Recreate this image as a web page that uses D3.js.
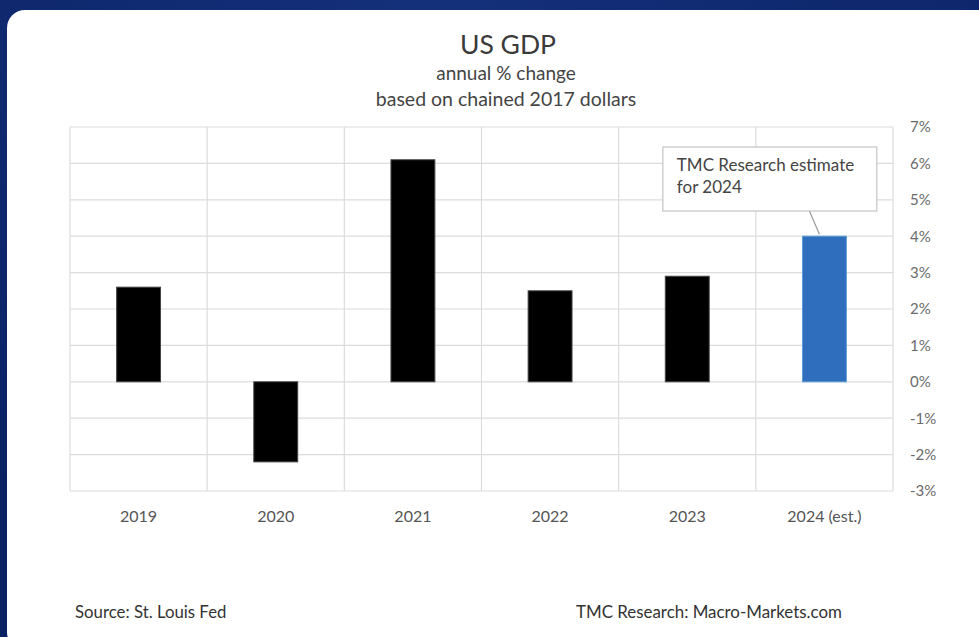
<!DOCTYPE html>
<html>
<head>
<meta charset="utf-8">
<script src="https://cdn.jsdelivr.net/npm/d3@7"></script>
<style>
  html, body { margin: 0; padding: 0; background: #0b2468; }
  svg { display: block; }
  text { font-family: Lato, "Open Sans", sans-serif; }
</style>
</head>
<body>
<svg id="chart" width="979" height="637"></svg>
<script>
// US real GDP, annual % change (chained 2017 dollars)
const years = ["2019", "2020", "2021", "2022", "2023", "2024 (est.)"];
const growth = [2.6, -2.2, 6.1, 2.5, 2.9, 4.0];
const estimateFlags = [false, false, false, false, false, true];
const yTicks = [-3, -2, -1, 0, 1, 2, 3, 4, 5, 6, 7];
const titleLines = ["US GDP", "annual % change", "based on chained 2017 dollars"];
const noteLines = ["TMC Research estimate", "for 2024"];
const sourceText = "Source: St. Louis Fed";
const creditText = "TMC Research: Macro-Markets.com";

const svg = d3.select("#chart");
const W = 979, H = 637;

// Backdrop
const defs = svg.append("defs");
const bg = defs.append("radialGradient").attr("id", "bg")
  .attr("cx", "0.45").attr("cy", "0.0").attr("r", "0.9");
bg.append("stop").attr("offset", "0").attr("stop-color", "#14307a");
bg.append("stop").attr("offset", "1").attr("stop-color", "#0a2163");
svg.append("rect").attr("width", W).attr("height", H).attr("fill", "url(#bg)");

// White card
svg.append("rect")
  .attr("x", 7).attr("y", 10).attr("width", W + 30).attr("height", 640)
  .attr("rx", 18).attr("fill", "#ffffff");

// Plot area
const plot = { left: 70, right: 893, top: 127, bottom: 491 };
const x = d3.scaleBand().domain(years).range([plot.left, plot.right]).padding(0);
const y = d3.scaleLinear().domain([-3, 7]).range([plot.bottom, plot.top]);
const barW = x.bandwidth() * 0.32;

// Titles
const titleG = svg.append("g").attr("text-anchor", "middle").attr("fill", "#3a3a3a");
titleG.append("text").attr("x", 508).attr("y", 54).attr("font-size", 26.5).text(titleLines[0]);
titleG.append("text").attr("x", 506).attr("y", 80).attr("font-size", 19).attr("fill", "#444").text(titleLines[1]);
titleG.append("text").attr("x", 506).attr("y", 106).attr("font-size", 19.5).attr("fill", "#444").text(titleLines[2]);

// Horizontal gridlines
svg.append("g").selectAll("line").data(yTicks).join("line")
  .attr("x1", plot.left).attr("x2", plot.right)
  .attr("y1", d => y(d)).attr("y2", d => y(d))
  .attr("stroke", "#dcdcdc").attr("stroke-width", 1.2);

// Vertical gridlines at category boundaries
const bounds = years.map(d => x(d)).concat([plot.right]);
svg.append("g").selectAll("line").data(bounds).join("line")
  .attr("x1", d => d).attr("x2", d => d)
  .attr("y1", plot.top).attr("y2", plot.bottom)
  .attr("stroke", "#dcdcdc").attr("stroke-width", 1.2);

// Right-hand value axis
const yAxis = d3.axisRight(y).tickValues(yTicks).tickSize(0).tickPadding(0)
  .tickFormat(d => d + "%");
const yAxisG = svg.append("g").attr("transform", `translate(${plot.right + 17},0)`).call(yAxis);
yAxisG.select(".domain").remove();
yAxisG.selectAll("text").attr("font-size", 15).attr("fill", "#6b6b6b")
  .attr("font-family", "Lato, sans-serif");

// Category axis labels
const xAxis = d3.axisBottom(x).tickSize(0).tickPadding(0);
const xAxisG = svg.append("g").attr("transform", `translate(0,${plot.bottom + 20})`).call(xAxis);
xAxisG.select(".domain").remove();
xAxisG.selectAll("text").attr("font-size", 16).attr("fill", "#555")
  .attr("font-family", "Lato, sans-serif");

// Bars
const rows = years.map((yr, i) => ({ yr, v: growth[i], est: estimateFlags[i] }));
svg.append("g").selectAll("rect").data(rows).join("rect")
  .attr("x", d => x(d.yr) + (x.bandwidth() - barW) / 2)
  .attr("width", barW)
  .attr("y", d => y(Math.max(0, d.v)))
  .attr("height", d => Math.abs(y(d.v) - y(0)))
  .attr("fill", d => d.est ? "#2f6ebd" : "#000000")
  .attr("stroke", d => d.est ? "#5b9bd5" : "#444")
  .attr("stroke-width", 1);

// Callout for the estimate bar
const est = rows.find(d => d.est);
const estCx = x(est.yr) + x.bandwidth() / 2;
const box = { x: x(est.yr) - 93, y: 147, w: 214, h: 64 };
svg.append("line")
  .attr("x1", estCx - 15).attr("y1", box.y + box.h)
  .attr("x2", estCx - 5).attr("y2", y(est.v) - 2)
  .attr("stroke", "#9a9a9a").attr("stroke-width", 1.2);
svg.append("rect")
  .attr("x", box.x).attr("y", box.y).attr("width", box.w).attr("height", box.h)
  .attr("fill", "#ffffff").attr("stroke", "#c4c4c4").attr("stroke-width", 1.2);
svg.append("g").selectAll("text").data(noteLines).join("text")
  .attr("x", box.x + 14).attr("y", (d, i) => box.y + 24 + i * 22)
  .attr("font-size", 17).attr("fill", "#444").text(d => d);

// Footer
svg.append("text").attr("x", 75).attr("y", 618).attr("font-size", 16.8)
  .attr("fill", "#333").text(sourceText);
svg.append("text").attr("x", 576).attr("y", 618).attr("font-size", 16.9)
  .attr("fill", "#333").text(creditText);
</script>
</body>
</html>
